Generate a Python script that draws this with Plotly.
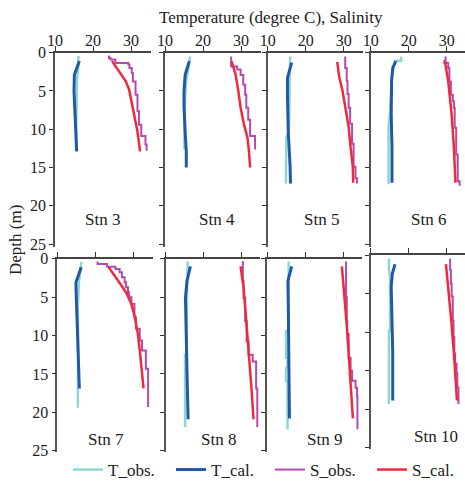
import plotly.graph_objects as go

stations = ["Stn 3", "Stn 4", "Stn 5", "Stn 6", "Stn 7", "Stn 8", "Stn 9", "Stn 10"]

# Observed temperature (depth m, deg C)
tobs_depth = [
    [0.43, 2.0, 3.5, 5.0, 10.0, 12.9],
    [0.5, 2.0, 3.5, 6.0, 10.3, 12.65],
    [0.5, 5.0, 10.2, 11.0, 17.1],
    [0.5, 1.1, 1.1, 3.0, 7.7, 9.8, 17.2],
    [0.4, 1.5, 3.0, 6.3, 12.0, 19.4],
    [0.35, 5.0, 12.5, 12.5, 21.9],
    [0.35, 9.4, 9.4, 12.9, 12.9, 14.2, 14.2, 15.9, 15.9, 22.2],
    [0.45, 1.95, 2.8, 9.8, 9.8, 19.35],
]
tobs_val = [
    [16.2, 16.1, 15.8, 15.75, 15.6, 15.7],
    [16.6, 16.2, 15.6, 15.3, 15.1, 15.1],
    [15.9, 15.8, 15.6, 14.9, 14.8],
    [18.0, 18.0, 16.4, 15.6, 15.1, 14.7, 14.7],
    [16.3, 16.1, 15.7, 15.4, 15.5, 15.4],
    [15.8, 15.6, 15.5, 15.1, 15.1],
    [15.7, 15.6, 15.0, 15.0, 15.4, 15.4, 15.0, 15.0, 15.4, 15.4],
    [14.8, 14.8, 15.1, 15.1, 14.8, 14.8],
]

# Calculated temperature
tcal_depth = [
    [1.1, 2.9, 5.0, 10.0, 12.9],
    [1.1, 2.9, 5.0, 7.0, 10.3, 12.9, 15.0],
    [1.3, 3.3, 5.4, 10.2, 14.9, 17.1],
    [1.1, 2.0, 3.7, 8.1, 12.4, 17.0],
    [1.1, 3.1, 5.0, 10.2, 16.9],
    [1.0, 2.9, 5.1, 10.3, 16.9, 20.9],
    [1.0, 2.9, 5.9, 12.4, 16.8, 20.8],
    [1.2, 2.4, 4.1, 8.5, 12.8, 18.9],
]
tcal_val = [
    [16.4, 15.1, 15.0, 15.4, 15.7],
    [16.4, 15.3, 15.0, 15.0, 15.3, 15.6, 15.6],
    [16.3, 15.2, 15.2, 15.4, 15.9, 16.0],
    [16.6, 15.8, 15.5, 15.4, 15.6, 15.6],
    [16.3, 14.9, 15.0, 15.4, 15.8],
    [16.5, 15.6, 15.2, 15.5, 15.7, 15.9],
    [16.5, 15.5, 15.6, 15.8, 15.8, 15.9],
    [16.4, 15.7, 15.4, 15.6, 15.8, 15.8],
]

# Observed salinity (stepped profile: value holds from its depth to the next)
sobs_depth = [
    [0.35, 0.7, 0.9, 1.35, 1.55, 2.0, 2.65, 3.75, 5.5, 7.65, 9.4, 10.9, 12.0, 12.8],
    [0.5, 1.8, 2.2, 2.9, 4.2, 5.5, 7.2, 8.75, 10.9, 12.65],
    [0.5, 2.0, 3.7, 5.4, 7.2, 9.3, 11.9, 14.9, 16.4, 17.1],
    [0.5, 1.1, 1.35, 2.0, 3.75, 5.5, 6.35, 7.2, 9.8, 13.3, 16.8, 17.4],
    [0.35, 0.7, 1.04, 1.34, 1.77, 2.42, 3.07, 3.72, 4.37, 5.02, 5.89, 7.62, 9.13, 10.65, 11.95, 14.33, 19.3],
    [0.3, 2.9, 5.1, 8.1, 10.7, 12.5, 13.4, 16.9, 21.9],
    [0.35, 5.0, 8.1, 9.8, 12.9, 14.6, 15.9, 16.8, 17.9, 22.2],
    [0.45, 1.95, 3.7, 5.4, 8.5, 10.65, 12.8, 14.1, 15.4, 17.2, 19.35],
]
sobs_val = [
    [24.2, 24.6, 25.9, 29.3, 29.6, 30.2, 30.5, 31.2, 31.7, 32.1, 32.7, 33.8, 34.1, 34.1],
    [27.4, 29.0, 29.9, 30.6, 31.1, 31.4, 31.9, 32.4, 33.7, 33.7],
    [30.4, 30.8, 31.0, 31.3, 31.7, 32.2, 32.6, 33.1, 33.5, 33.5],
    [29.7, 29.4, 30.4, 30.7, 31.1, 31.6, 31.9, 32.1, 32.5, 32.9, 33.4, 33.4],
    [20.6, 23.1, 25.3, 26.4, 27.0, 27.7, 28.1, 28.6, 28.9, 29.5, 30.3, 30.7, 31.7, 32.3, 33.3, 33.9, 33.9],
    [30.3, 30.5, 30.9, 31.3, 31.8, 32.9, 33.8, 34.1, 34.1],
    [30.8, 31.0, 31.1, 31.5, 32.0, 32.4, 33.3, 33.7, 33.8, 33.8],
    [30.9, 31.1, 31.3, 31.6, 31.8, 32.0, 32.2, 32.6, 32.8, 33.1, 33.1],
]

# Calculated salinity
scal_depth = [
    [1.1, 2.0, 2.9, 3.7, 4.8, 5.9, 8.1, 10.3, 12.9],
    [1.1, 2.9, 5.0, 7.2, 9.4, 11.1, 12.9, 15.0],
    [1.2, 3.1, 5.0, 7.2, 9.7, 12.3, 14.9, 17.0],
    [1.1, 3.7, 8.1, 12.4, 17.0],
    [1.1, 1.97, 2.86, 3.72, 4.59, 5.89, 7.62, 9.78, 12.4, 14.5, 16.9],
    [1.0, 3.8, 8.1, 11.6, 14.7, 17.7, 20.9],
    [1.0, 3.8, 8.1, 12.4, 16.8, 20.8],
    [1.2, 4.1, 8.5, 12.8, 18.9],
]
scal_val = [
    [25.0, 26.2, 27.4, 28.6, 29.5, 29.9, 30.8, 31.7, 32.4],
    [27.5, 28.6, 29.3, 29.9, 30.8, 31.7, 32.1, 32.4],
    [28.3, 28.8, 29.7, 30.4, 31.3, 31.8, 32.4, 32.5],
    [29.5, 30.4, 31.3, 31.9, 32.3],
    [23.5, 24.8, 26.1, 27.2, 28.3, 29.5, 30.4, 31.2, 31.8, 32.3, 32.7],
    [29.7, 30.5, 31.2, 31.8, 32.3, 32.7, 33.1],
    [29.7, 30.2, 30.9, 31.5, 32.1, 32.6],
    [29.8, 30.4, 31.2, 31.9, 32.7],
]

x_ticks = [10, 20, 30]
depth_ticks = [0, 5, 10, 15, 20, 25]
label_pos_x = [22.6, 23.6, 24.2, 25.3, 22.8, 23.8, 25.1, 27.1]
label_pos_depth = [21.8, 21.8, 21.8, 21.8, 23.5, 23.5, 23.5, 23.6]

W, H = 465, 485
FONT = "Liberation Serif, Times New Roman, serif"
PXU = 3.8  # pixels per x unit

# panel geometry in pixels: left, right, top, px per metre, max depth shown
panels = [
    (55, 150.7, 52.7, 7.652, 25.4),
    (165, 260.7, 52.7, 7.652, 25.4),
    (267.7, 363.3, 52.7, 7.652, 25.4),
    (370.7, 465, 52.7, 7.652, 25.4),
    (57.3, 153, 258.7, 7.68, 25.2),
    (165.7, 260, 258.7, 7.68, 25.2),
    (267, 362, 258.7, 7.68, 25.2),
    (370.7, 465, 255, 7.7, 25.2),
]

C_TOBS = "#8fd6d2"
C_TCAL = "#2158a8"
C_SOBS = "#b34aad"
C_SCAL = "#ee2a3c"

# legend placement (line sample start, px) — one legend per series
legend_px = [73, 176, 275, 377]
legend_ids = ["legend", "legend2", "legend3", "legend4"]

fig = go.Figure()
layout = {}
annotations = []
for i, name in enumerate(stations):
    k = "" if i == 0 else str(i + 1)
    xa, ya = "x" + k, "y" + k
    first = i == 0
    specs = [
        (tobs_val[i], tobs_depth[i], dict(color=C_TOBS, width=2.5), "T_obs."),
        (tcal_val[i], tcal_depth[i], dict(color=C_TCAL, width=3), "T_cal."),
        (sobs_val[i], sobs_depth[i], dict(color=C_SOBS, width=2, shape="vh"), "S_obs."),
        (scal_val[i], scal_depth[i], dict(color=C_SCAL, width=2.5), "S_cal."),
    ]
    for j, (xv, yv, ln, nm) in enumerate(specs):
        fig.add_trace(go.Scatter(x=xv, y=yv, mode="lines", xaxis=xa, yaxis=ya, line=ln,
                                 name=nm, showlegend=first, legend=legend_ids[j]))

    left, right, top, ppm, dmax = panels[i]
    bottom = top + dmax * ppm
    layout["xaxis" + k] = dict(
        domain=[left / W, right / W], range=[10, 10 + (right - left) / PXU],
        side="top", anchor=ya, tickvals=x_ticks, showticklabels=(i < 4),
        ticks="outside", ticklen=5, tickwidth=1.2, tickcolor="#333",
        ticklabelstandoff=-6,
        showline=True, linecolor="#444", linewidth=1.5, showgrid=False, zeroline=False,
        tickfont=dict(family=FONT, size=16, color="#222"), fixedrange=True, automargin=False,
    )
    layout["yaxis" + k] = dict(
        domain=[1 - bottom / H, 1 - top / H], range=[dmax, 0],
        anchor=xa, tickvals=depth_ticks, showticklabels=(i % 4 == 0),
        ticks="outside", ticklen=4, tickwidth=1.2, tickcolor="#333",
        showline=True, linecolor="#555", linewidth=1.5, showgrid=False, zeroline=False,
        tickfont=dict(family=FONT, size=16, color="#222"), fixedrange=True, automargin=False,
    )
    annotations.append(dict(text=name, x=label_pos_x[i], y=label_pos_depth[i], xref=xa, yref=ya,
                            xanchor="center", yanchor="middle", showarrow=False,
                            font=dict(family=FONT, size=17, color="#222")))

annotations.append(dict(text="Temperature (degree C), Salinity", x=270.5 / W, y=1 - 18 / H,
                        xref="paper", yref="paper", xanchor="center", yanchor="middle",
                        showarrow=False, font=dict(family=FONT, size=17, color="#222")))
annotations.append(dict(text="Depth (m)", x=15 / W, y=1 - 240 / H, xref="paper", yref="paper",
                        xanchor="center", yanchor="middle", showarrow=False, textangle=-90,
                        font=dict(family=FONT, size=17, color="#222")))

for lid, px in zip(legend_ids, legend_px):
    layout[lid] = dict(orientation="h", x=(px - 5) / W, y=1 - 470 / H, xanchor="left",
                       yanchor="middle", itemwidth=30, borderwidth=0,
                       font=dict(family=FONT, size=17, color="#222"),
                       bgcolor="rgba(0,0,0,0)")

fig.update_layout(**layout)
fig.update_layout(
    width=W, height=H, margin=dict(l=0, r=0, t=0, b=0, autoexpand=False),
    plot_bgcolor="white", paper_bgcolor="white",
    annotations=annotations, showlegend=True,
)

fig.write_html("out.html")
